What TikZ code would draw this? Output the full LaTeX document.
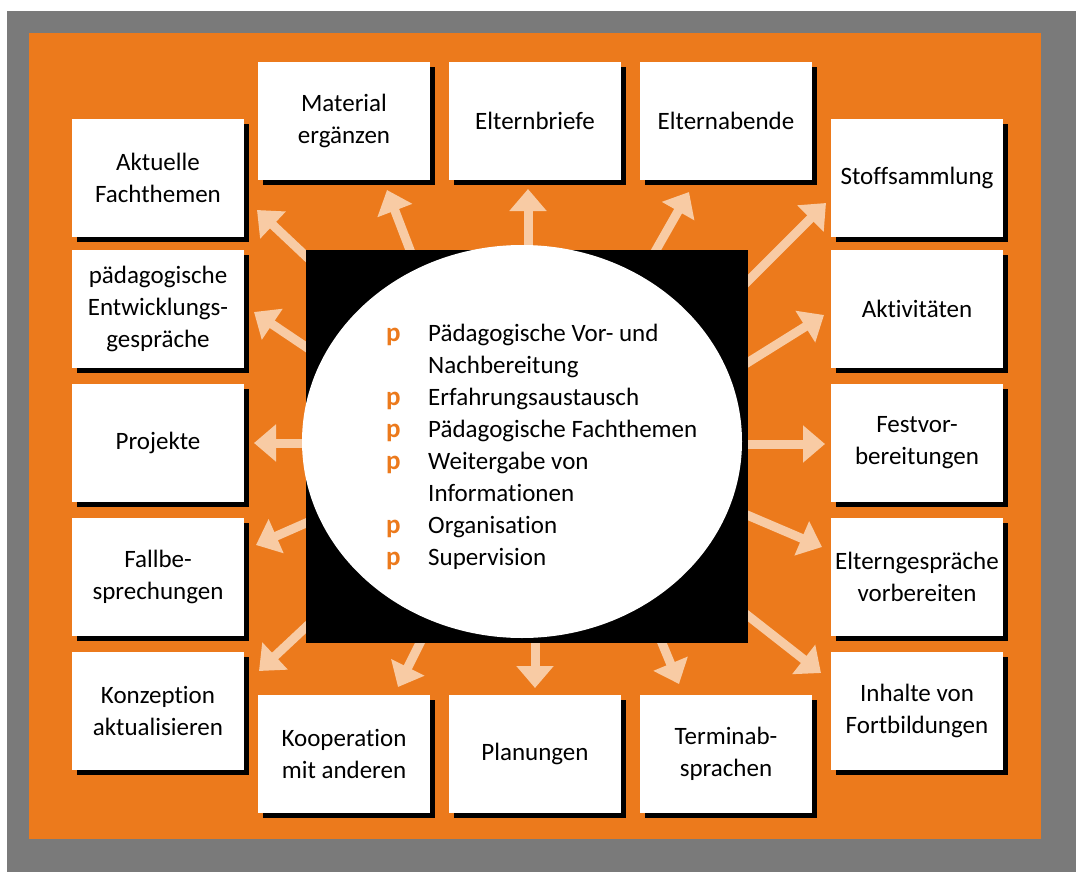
\documentclass[tikz,border=0pt]{standalone}
\usepackage{fontspec}
\setmainfont{Carlito}[Ligatures=NoCommon]
\usetikzlibrary{arrows.meta,shadows}
\definecolor{frameGray}{HTML}{7A7A7A}
\definecolor{bgOrange}{HTML}{EC7A1C}
\definecolor{peach}{HTML}{F8CBA4}
\tikzset{
  card/.style={fill=white, minimum width=172pt, minimum height=118pt, inner sep=0pt,
    align=center, font=\fontsize{25}{32}\selectfont,
    general shadow={fill=black, shadow xshift=5pt, shadow yshift=-5pt}},
  ray/.style={draw=peach, line width=9pt, shorten <=-14pt,
    -{Triangle[width=36pt,length=22pt]}},
  item/.style={anchor=base west, inner sep=0pt, font=\fontsize{25}{32}\selectfont},
  bul/.style={anchor=base west, inner sep=0pt, text=bgOrange, font=\fontsize{27}{32}\selectfont\bfseries}
}
\begin{document}
\begin{tikzpicture}[x=1pt,y=-1pt]
\useasboundingbox (0,0) rectangle (1076,872);
\fill[white] (0,0) rectangle (1076,872);
\fill[frameGray] (7,11) rectangle (1076,872);
\fill[bgOrange] (29,33) rectangle (1041,839);

% boxes
\node[card] (L1) at (158,178) {Aktuelle\\Fachthemen};
\node[card] (L2) at (158,309) {pädagogische\\Entwicklungs-\\gespräche};
\node[card] (L3) at (158,443) {Projekte};
\node[card] (L4) at (158,577) {Fallbe-\\sprechungen};
\node[card] (L5) at (158,711) {Konzeption\\aktualisieren};
\node[card] (R1) at (917,178) {Stoffsammlung};
\node[card] (R2) at (917,309) {Aktivitäten};
\node[card] (R3) at (917,443) {Festvor-\\bereitungen};
\node[card] (R4) at (917,577) {Elterngespräche\\vorbereiten};
\node[card] (R5) at (917,711) {Inhalte von\\Fortbildungen};
\node[card] (T1) at (344,121) {Material\\ergänzen};
\node[card] (T2) at (535,121) {Elternbriefe};
\node[card] (T3) at (726,121) {Elternabende};
\node[card] (B1) at (344,754) {Kooperation\\mit anderen};
\node[card] (B2) at (535,754) {Planungen};
\node[card] (B3) at (726,754) {Terminab-\\sprachen};

% arrow end points
\coordinate (s1) at (310,260);  \coordinate (e1) at (257,210);
\coordinate (s2) at (410,250);  \coordinate (e2) at (387,190);
\coordinate (s3) at (528,250);  \coordinate (e3) at (528,189);
\coordinate (s4) at (656,250);  \coordinate (e4) at (689,192);
\coordinate (s5) at (747,282);  \coordinate (e5) at (826,203);
\coordinate (s6) at (747,363);  \coordinate (e6) at (824,315);
\coordinate (s7) at (747,444);  \coordinate (e7) at (825,444);
\coordinate (s8) at (747,515);  \coordinate (e8) at (822,547);
\coordinate (s9) at (747,615);  \coordinate (e9) at (821,673);
\coordinate (s10) at (662,643); \coordinate (e10) at (679,684);
\coordinate (s11) at (535,643); \coordinate (e11) at (535,688);
\coordinate (s12) at (420,643); \coordinate (e12) at (398,687);
\coordinate (s13) at (306,627); \coordinate (e13) at (259,671);
\coordinate (s14) at (306,523); \coordinate (e14) at (256,545);
\coordinate (s15) at (306,443); \coordinate (e15) at (254,443);
\coordinate (s16) at (306,347); \coordinate (e16) at (254,312);
\foreach \i in {1,...,16} { \draw[ray] (s\i) -- (e\i); }

% centre
\node[fill=black, minimum width=442pt, minimum height=393pt, inner sep=0pt] (core) at (527,446.5) {};
\fill[white] (522,441.5) ellipse [x radius=220pt, y radius=196.5pt];

\node[bul] (b1) at (386,341) {p};
\node[bul] (b2) at (386,405) {p};
\node[bul] (b3) at (386,437) {p};
\node[bul] (b4) at (386,469) {p};
\node[bul] (b5) at (386,533) {p};
\node[bul] (b6) at (386,565) {p};
\node[item] (t1) at (428,341) {Pädagogische Vor- und};
\node[item] (t2) at (428,373) {Nachbereitung};
\node[item] (t3) at (428,405) {Erfahrungsaustausch};
\node[item] (t4) at (428,437) {Pädagogische Fachthemen};
\node[item] (t5) at (428,469) {Weitergabe von};
\node[item] (t6) at (428,501) {Informationen};
\node[item] (t7) at (428,533) {Organisation};
\node[item] (t8) at (428,565) {Supervision};
\end{tikzpicture}
\end{document}
